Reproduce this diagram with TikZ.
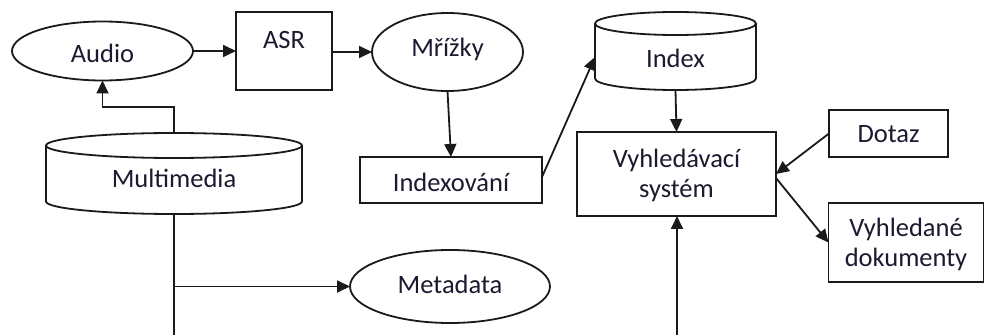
\documentclass[tikz,border=0pt]{standalone}
\usepackage{fontspec}
\setmainfont{Carlito}
\usetikzlibrary{arrows.meta,shapes.geometric,calc}
\definecolor{inkline}{HTML}{1A1A1A}
\definecolor{inktext}{HTML}{1A1A30}

% Outline of a drum (database) shape laid over a placeholder node:
% #1 = node name, #2 = half-height of the end caps in pt
\newcommand{\drumoutline}[2]{%
  \draw[base] let \p1=(#1.north west), \p2=(#1.south east) in
    (\x1,{\y1-#2pt}) -- (\x1,{\y2+#2pt})
    arc[start angle=180, end angle=360, x radius={(\x2-\x1)/2}, y radius=#2pt]
    -- (\x2,{\y1-#2pt})
    arc[start angle=0, end angle=180, x radius={(\x2-\x1)/2}, y radius=#2pt]
    arc[start angle=180, end angle=360, x radius={(\x2-\x1)/2}, y radius=#2pt];
}

\tikzset{
  every node/.style={inner sep=0pt, outer sep=0pt},
  base/.style={line width=1.8pt, draw=inkline, fill=white},
  boxnode/.style={base, rectangle},
  ovalnode/.style={base, ellipse},
  holder/.style={draw=none, rectangle},
  txt/.style={text=inktext, font=\fontsize{26.5}{30}\selectfont, align=center},
  link/.style={line width=1.8pt, draw=inkline, -{Triangle[length=13pt,width=12pt]}},
  plain/.style={line width=1.8pt, draw=inkline},
}

\begin{document}
\begin{tikzpicture}[x=1pt,y=1pt]
\useasboundingbox (0,0) rectangle (986,335);

% ---- shapes ----
\node[ovalnode, minimum width=181pt, minimum height=59pt] (audio) at (102.5,284) {};
\node[boxnode, minimum width=96pt, minimum height=78pt] (asr) at (284,284) {};
\node[ovalnode, minimum width=151pt, minimum height=78pt] (mrizky) at (447.5,283) {};
\node[holder, minimum width=161pt, minimum height=78pt] (index) at (675.5,284) {};
\drumoutline{index}{11.5}
\node[holder, minimum width=256pt, minimum height=81pt] (multimedia) at (174,161.5) {};
\drumoutline{multimedia}{12.5}
\node[boxnode, minimum width=182pt, minimum height=46pt] (indexovani) at (451,155) {};
\node[boxnode, minimum width=199pt, minimum height=84pt] (vyhl) at (676.5,161) {};
\node[boxnode, minimum width=119pt, minimum height=47pt] (dotaz) at (888.5,201.5) {};
\node[boxnode, minimum width=155pt, minimum height=79pt] (vyhledane) at (906,92.5) {};
\node[ovalnode, minimum width=200pt, minimum height=73pt] (metadata) at (450,48.5) {};

% ---- labels ----
\node[txt] (audiotxt) at (102.5,282) {Audio};
\node[txt] (asrtxt) at (284,295.5) {ASR};
\node[txt] (mrizkytxt) at (447.5,286) {Mřížky};
\node[txt] (indextxt) at (675.5,277) {Index};
\node[txt] (multimediatxt) at (174,157) {Multimedia};
\node[txt] (indexovanitxt) at (451,153) {Indexování};
\node[txt] (vyhltxt) at (676.5,160) {Vyhledávací\\systém};
\node[txt] (dotaztxt) at (888.5,201) {Dotaz};
\node[txt] (vyhledanetxt) at (906,91) {Vyhledané\\dokumenty};
\node[txt] (metadatatxt) at (450,51) {Metadata};

% ---- free ends and bends ----
\coordinate (mmdrop) at (174,0);
\coordinate (feed) at (677,0);
\coordinate (knee) at (174,228);

% ---- connectors ----
\draw[link] (audio.east) -- (audio.east -| asr.west);
\draw[link] (asr.east |- mrizky.west) -- (mrizky.west);
\draw[link] (mrizky.south) -- (indexovani.north);
\draw[link] ([yshift=3pt]indexovani.east) -- ([yshift=-6pt]index.west);
\draw[link] (index.south) -- (vyhl.north);
\draw[link] (dotaz.west) -- (vyhl.east);
\draw[link] ([yshift=-4pt]vyhl.east) -- (vyhledane.west);
\draw[link] (feed) -- (feed |- vyhl.south);
\draw[plain] (multimedia.south) -- (mmdrop);
\draw[link] (multimedia.south |- metadata.west) -- (metadata.west);
\draw[link] (multimedia.north) -- (knee) -| (audio.south);
\end{tikzpicture}
\end{document}
